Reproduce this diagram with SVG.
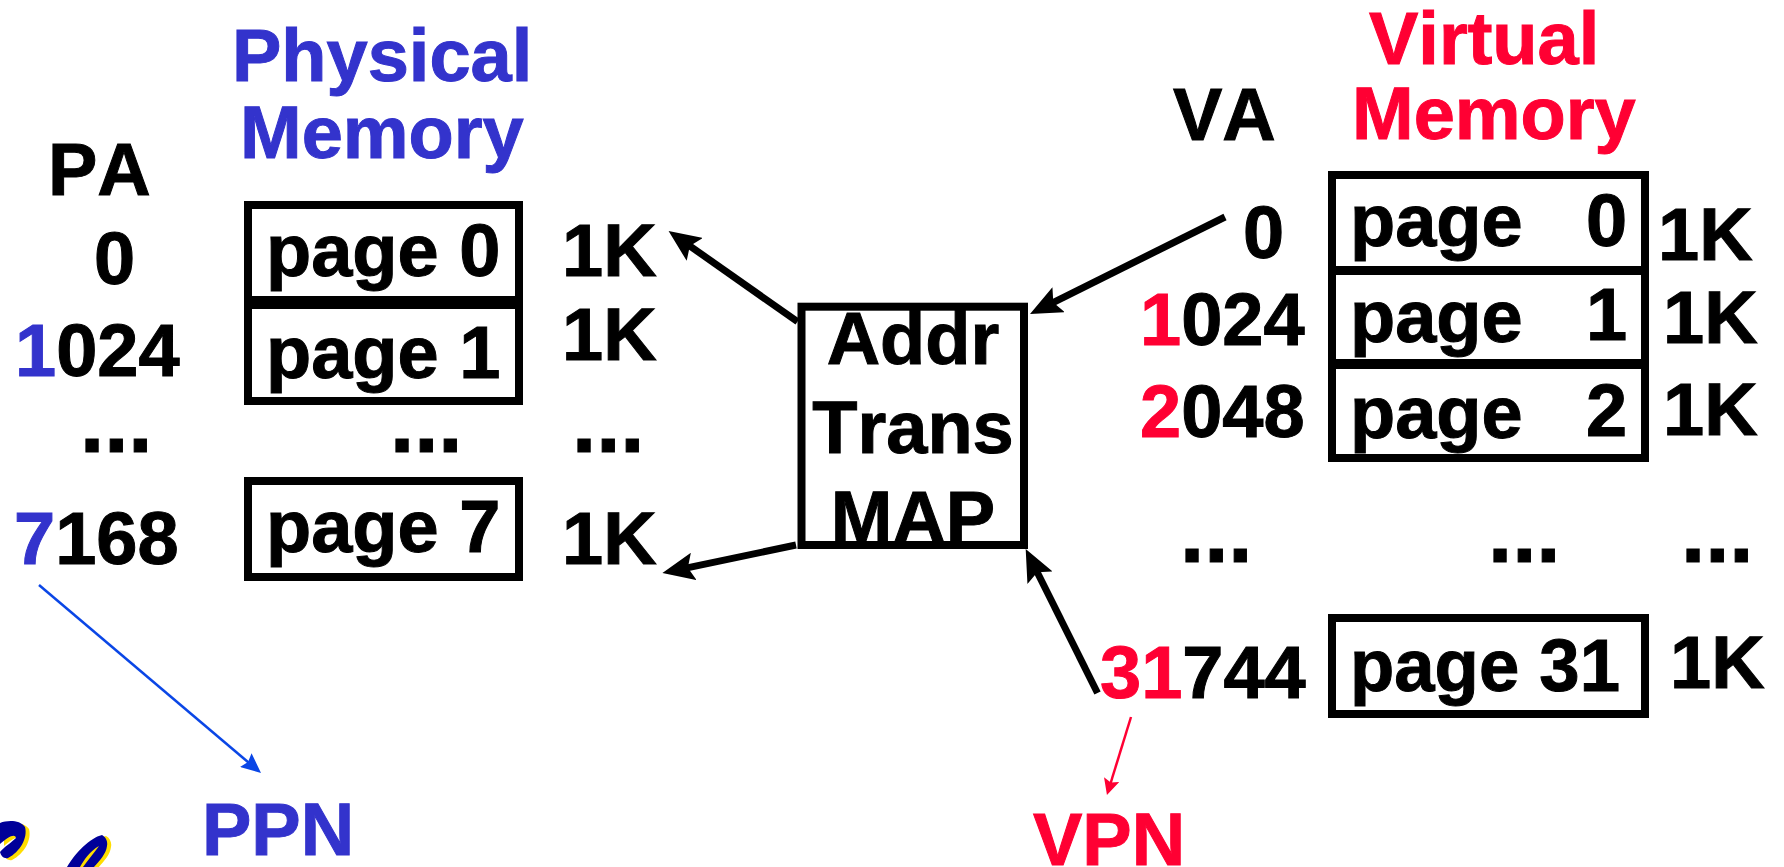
<svg xmlns="http://www.w3.org/2000/svg" width="1784" height="867" viewBox="0 0 1784 867">
<defs>
<marker id="ak" markerUnits="userSpaceOnUse" markerWidth="34" markerHeight="28" refX="8" refY="14" orient="auto"><path d="M0 0L32 14L0 28L6 14z" fill="#000"/></marker>
<marker id="ab" markerUnits="userSpaceOnUse" markerWidth="22" markerHeight="18" refX="4" refY="9" orient="auto"><path d="M0 0L20 9L0 18L3 9z" fill="#0a46e6"/></marker>
<marker id="ar" markerUnits="userSpaceOnUse" markerWidth="18" markerHeight="16" refX="4" refY="8" orient="auto"><path d="M0 0L16 8L0 16L3 8z" fill="#ff0033"/></marker>
</defs>
<style>
text{font-family:"Liberation Sans",Arial,sans-serif;font-weight:700;font-size:74px;font-kerning:none;fill:#000;stroke:#000;stroke-width:1}
.d{font-size:87px}
.b{fill:#3333cc;stroke:#3333cc}.r{fill:#ff0033;stroke:#ff0033}
rect{fill:#fff;stroke:#000;stroke-width:8}
.c{fill:none;stroke:#000;stroke-width:7;marker-end:url(#ak)}
</style>
<rect width="1784" height="867" style="fill:#fff;stroke:none"/>
<g id="logo">
<path d="M0 823C8 820 20 820 25 827C28 838 20 852 8 858C4 859 1 856 0 852C3 848 12 842 16 838C15 833 8 837 0 844z" fill="#ffdd00" transform="translate(4 2)"/>
<path d="M0 823C8 820 20 820 25 827C28 838 20 852 8 858C4 859 1 856 0 852C3 848 12 842 16 838C15 833 8 837 0 844z" fill="#000099"/>
<path d="M67 867C76 852 90 838 102 835C106 837 108 842 107 846C106 854 100 860 94 867H83C88 860 94 853 99 846C90 851 84 860 80 867z" fill="#ffdd00" transform="translate(4 1)"/>
<path d="M67 867C76 852 90 838 102 835C106 837 108 842 107 846C106 854 100 860 94 867H83C88 860 94 853 99 846C90 851 84 860 80 867z" fill="#000099"/>
</g>
<g id="labels">
<text class="b" x="232" y="81">Physical</text>
<text class="b" x="240" y="158">Memory</text>
<text class="r" x="1369" y="64">Virtual</text>
<text class="r" x="1352" y="139">Memory</text>
<text x="48" y="195">PA</text>
<text x="1173" y="140">VA</text>
<text x="94" y="284">0</text>
<text x="15" y="376"><tspan class="b">1</tspan>024</text>
<text class="d" x="80" y="452">...</text>
<text x="14" y="564"><tspan class="b">7</tspan>168</text>
<text x="1243" y="258">0</text>
<text x="1140" y="345"><tspan class="r">1</tspan>024</text>
<text x="1140" y="437"><tspan class="r">2</tspan>048</text>
<text class="d" x="1180" y="562">...</text>
<text x="1100" y="698"><tspan class="r">31</tspan>744</text>
<text x="562" y="276">1K</text>
<text x="562" y="360">1K</text>
<text class="d" x="572" y="452">...</text>
<text x="562" y="564">1K</text>
<text x="1658" y="260">1K</text>
<text x="1663" y="343">1K</text>
<text x="1663" y="435">1K</text>
<text class="d" x="1681" y="562">...</text>
<text x="1670" y="688">1K</text>
<text class="d" x="390" y="452">...</text>
<text class="d" x="1488" y="562">...</text>
<text class="b" x="202" y="855">PPN</text>
<text class="r" x="1033" y="865">VPN</text>
</g>
<g id="p0"><rect x="248" y="205" width="271" height="95"/></g>
<g id="p1"><rect x="248" y="305" width="271" height="96"/></g>
<g id="p7"><rect x="248" y="481" width="271" height="96"/></g>
<g id="v0"><rect x="1332" y="175" width="313" height="95"/></g>
<g id="v1"><rect x="1332" y="271" width="313" height="92"/></g>
<g id="v2"><rect x="1332" y="365" width="313" height="93"/></g>
<g id="v31"><rect x="1332" y="618" width="313" height="96"/></g>
<g id="map"><rect x="801.500" y="306.700" width="222.500" height="238.300"/></g>
<g id="nodetext">
<text x="266" y="276">page 0</text>
<text x="266" y="378">page 1</text>
<text x="266" y="552">page 7</text>
<text x="1350" y="246">page</text><text x="1586" y="246">0</text>
<text x="1350" y="342">page</text><text x="1586" y="340">1</text>
<text x="1350" y="438">page</text><text x="1586" y="436">2</text>
<text x="1350" y="691" textLength="270" lengthAdjust="spacingAndGlyphs">page 31</text>
<text x="913" y="364" text-anchor="middle">Addr</text><text x="913" y="453" text-anchor="middle">Trans</text><text x="913" y="543" text-anchor="middle">MAP</text>
</g>
<g id="connectors">
<path class="c" d="M797.500 321.700L688.200 244.800"/>
<path class="c" d="M796 545L685.900 568.100"/>
<path class="c" d="M1225 217L1051.500 303.300"/>
<path class="c" d="M1097.500 693L1036.400 570.500"/>
<path d="M39 585L248.800 762.700" stroke="#0a46e6" stroke-width="2.500" fill="none" marker-end="url(#ab)"/>
<path d="M1131 717L1110.500 783.500" stroke="#ff0033" stroke-width="2.500" fill="none" marker-end="url(#ar)"/>
</g>
</svg>
